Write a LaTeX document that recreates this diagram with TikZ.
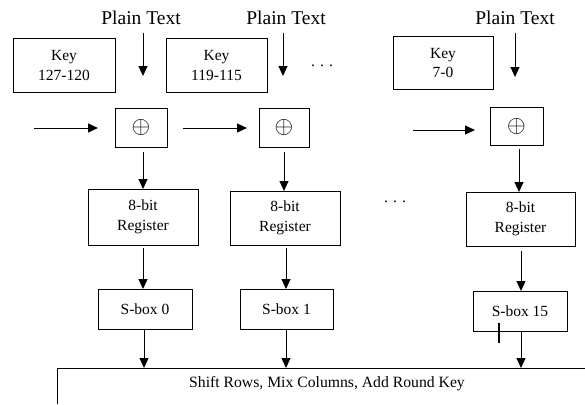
\documentclass[tikz,border=0pt]{standalone}
\usepackage{fontspec}
\usepackage{graphicx}
\setmainfont{Liberation Serif}
\usetikzlibrary{arrows.meta}
\newcommand{\bigxor}{\scalebox{2.4}{$\oplus$}}
\begin{document}
\begin{tikzpicture}[x=1pt,y=-1pt,
  line width=1pt,
  arr/.style={-{Triangle[length=10pt,width=9pt]}},
  box/.style={draw,inner sep=0pt,align=center,font=\fontsize{15.5}{19.5}\selectfont},
  ptext/.style={inner sep=0pt,font=\fontsize{19.5}{22}\selectfont},
  xorbox/.style={draw,inner sep=0pt,minimum width=52pt,minimum height=39pt},
  dots/.style={inner sep=0pt,font=\fontsize{15.5}{19}\selectfont}]
\useasboundingbox (0,0) rectangle (585,404);
% plain text labels
\node[ptext] (pt1) at (141,18) {Plain Text};
\node[ptext] (pt2) at (286,18) {Plain Text};
\node[ptext] (pt3) at (515,18) {Plain Text};
% key boxes
\node[box,minimum width=102pt,minimum height=53pt] (k1) at (64,65.5) {Key\\127-120};
\node[box,minimum width=101pt,minimum height=53pt] (k2) at (216.5,65.5) {Key\\119-115};
\node[box,minimum width=100pt,minimum height=52pt] (k3) at (443,63) {Key\\7-0};
\node[dots] (d1) at (322,66) {.\,\,.\,\,.};
% xor boxes
\node[xorbox] (x1) at (141,127.5) {\bigxor};
\node[xorbox,minimum width=50pt] (x2) at (284,127.5) {\bigxor};
\node[xorbox,minimum width=53pt,minimum height=38pt] (x3) at (516.5,126) {\bigxor};
% registers
\node[box,minimum width=110pt,minimum height=56pt] (r1) at (143,217) {8-bit\\Register};
\node[box,minimum width=110pt,minimum height=54pt] (r2) at (285,218) {8-bit\\Register};
\node[box,minimum width=109pt,minimum height=54pt] (r3) at (520.5,219) {8-bit\\Register};
\node[dots] (d2) at (395,202) {.\,\,.\,\,.};
% s-boxes
\node[box,minimum width=94pt,minimum height=40pt] (s1) at (145,309) {S-box 0};
\node[box,minimum width=93pt,minimum height=40pt] (s2) at (286.5,309) {S-box 1};
\node[box,minimum width=94pt,minimum height=40pt] (s3) at (520,311) {S-box 15};
% bottom block
\coordinate (bl) at (57,368);
\coordinate (br) at (585,368);
\coordinate (bb) at (57,404);
\draw (bb) -- (bl) -- (br);
\node[inner sep=0pt,font=\fontsize{15.7}{19}\selectfont] (sr) at (327,384) {Shift Rows, Mix Columns, Add Round Key};
% plain text arrows
\coordinate (pe1) at (143,76);
\coordinate (pe2) at (283,76);
\coordinate (pe3) at (515,77);
\draw[arr] (143,33) -- (pe1);
\draw[arr] (283,33) -- (pe2);
\draw[arr] (515,33) -- (pe3);
% horizontal arrows
\coordinate (hs1) at (34,128);  \coordinate (he1) at (98,128);
\coordinate (hs2) at (183,128); \coordinate (he2) at (247,128);
\coordinate (hs3) at (413,130); \coordinate (he3) at (475,130);
\draw[arr] (hs1) -- (he1);
\draw[arr] (hs2) -- (he2);
\draw[arr] (hs3) -- (he3);
% xor -> register
\draw[arr,shorten <=5pt] (143,147) -- (143,189);
\draw[arr,shorten <=5pt] (284,147) -- (284,191);
\draw[arr,shorten <=4pt] (519,145) -- (519,192);
% register -> sbox
\draw[arr,shorten <=3pt] (143,245) -- (143,289);
\draw[arr,shorten <=3pt] (286,245) -- (286,289);
\draw[arr,shorten <=5pt] (521,246) -- (521,291);
% sbox -> bottom
\draw[arr] (144,329) -- (144,368);
\draw[arr] (286,329) -- (286,368);
\draw[arr] (521,331) -- (521,368);
% tick
\draw[line width=2pt] (499,323) -- (499,343);
\end{tikzpicture}
\end{document}
